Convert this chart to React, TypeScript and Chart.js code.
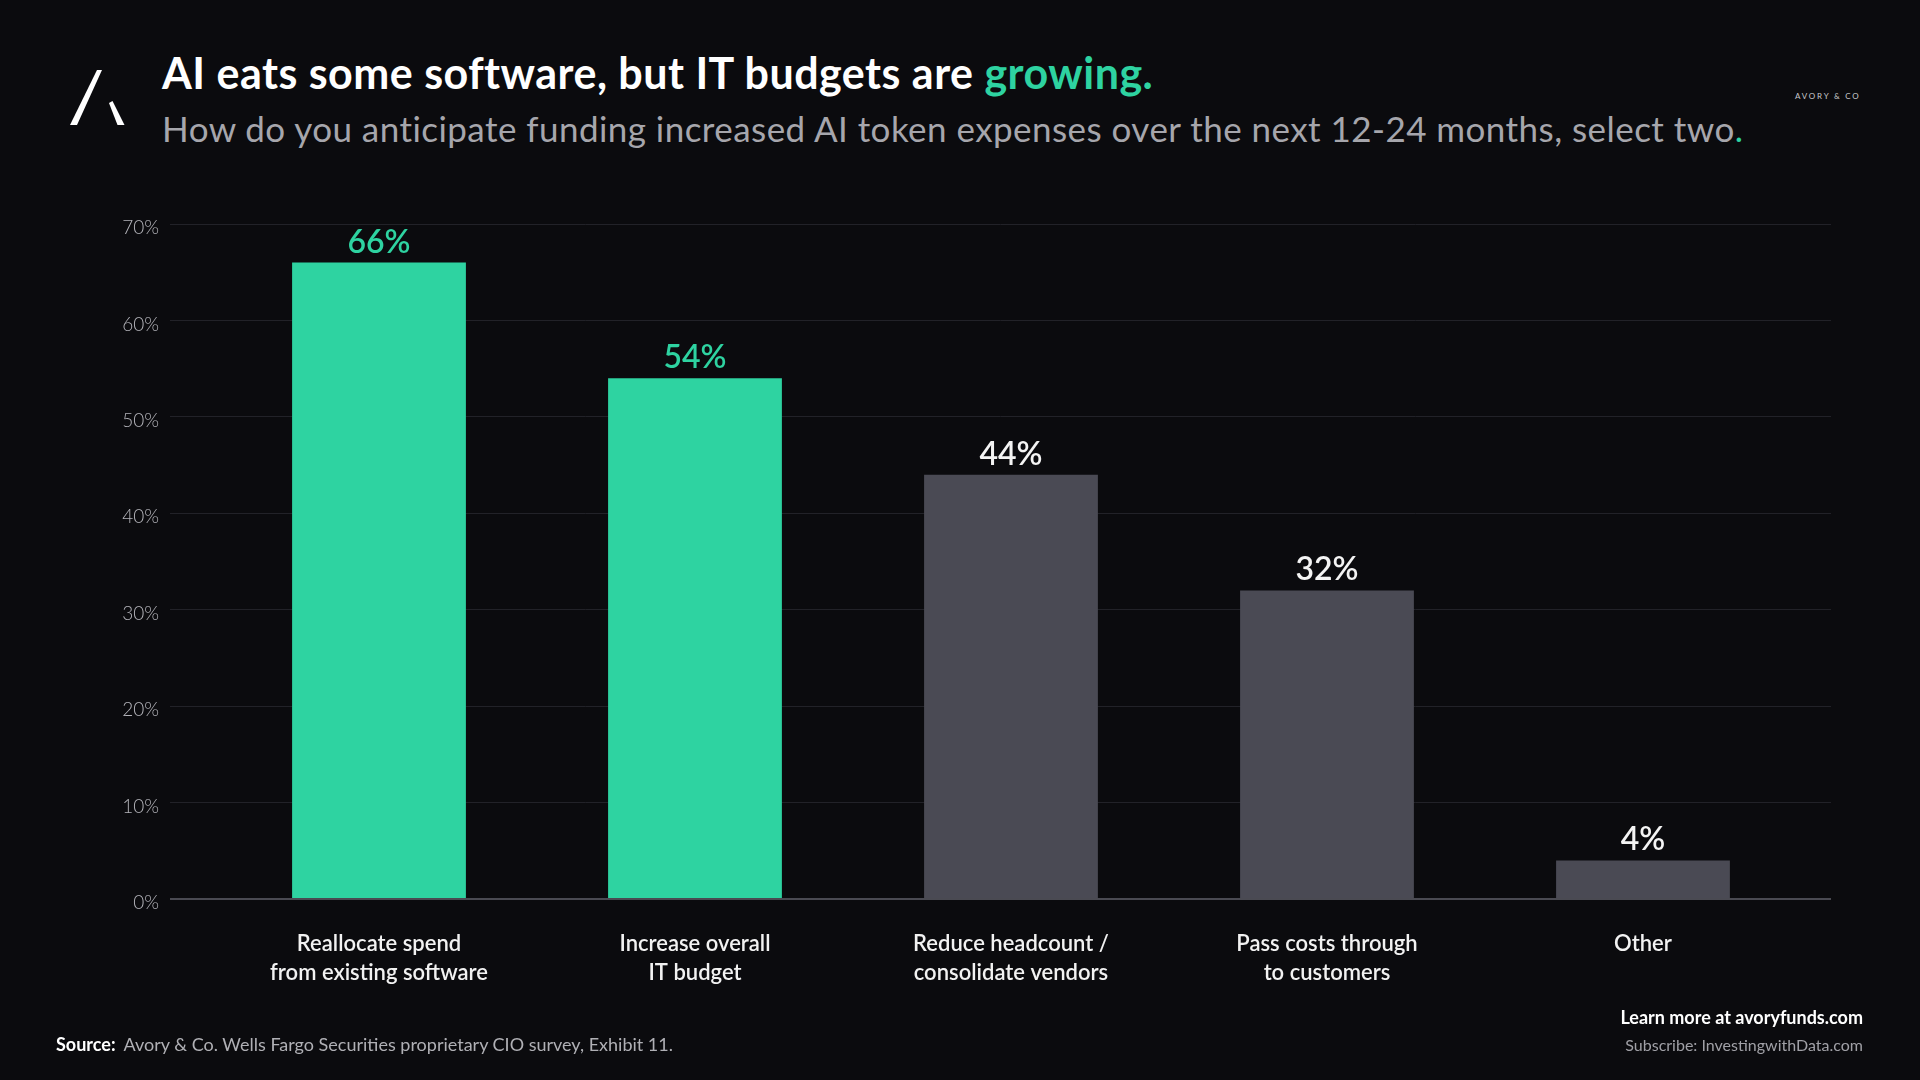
import { useEffect, useRef } from "react";
import Chart from "chart.js/auto";

// survey answers, share of CIOs (%)
const categories = [
  ["Reallocate spend", "from existing software"],
  ["Increase overall", "IT budget"],
  ["Reduce headcount /", "consolidate vendors"],
  ["Pass costs through", "to customers"],
  ["Other"],
];
const shares = [66, 54, 44, 32, 4];
const yTicks = [0, 10, 20, 30, 40, 50, 60, 70];

const GREEN = "#2ed3a1";
const GREY = "#4a4a54";
const BG = "#0b0b0e";
const FONT = "Lato, 'Noto Sans', sans-serif";

// draws the "66%" style labels above each bar
const valueLabels = {
  id: "valueLabels",
  afterDatasetsDraw(chart: any) {
    const { ctx } = chart;
    const meta = chart.getDatasetMeta(0);
    ctx.save();
    ctx.font = `600 32px ${FONT}`;
    ctx.textAlign = "center";
    ctx.textBaseline = "alphabetic";
    meta.data.forEach((bar: any, i: number) => {
      ctx.fillStyle = i < 2 ? GREEN : "#f4f4f4";
      ctx.fillText(`${shares[i]}%`, bar.x, bar.y - 10);
    });
    ctx.restore();
  },
};

export default function App() {
  const canvasRef = useRef<HTMLCanvasElement>(null);

  useEffect(() => {
    if (!canvasRef.current) return;

    const chart = new Chart(canvasRef.current, {
      type: "bar",
      data: {
        datasets: [
          {
            data: shares.map((v, i) => ({ x: i, y: v })),
            backgroundColor: (c: any) => (c.dataIndex < 2 ? GREEN : GREY),
            borderWidth: 0,
            barPercentage: 0.55,
            categoryPercentage: 1,
          },
        ],
      },
      options: {
        responsive: false,
        animation: false,
        layout: { padding: { left: 0, top: 224, right: 89, bottom: 61 } },
        plugins: {
          legend: { display: false },
          tooltip: { enabled: false },
        },
        scales: {
          x: {
            type: "linear",
            min: -0.6614,
            max: 4.595,
            offset: false,
            grid: { display: false },
            border: { display: false },
            afterBuildTicks: (axis: any) => {
              axis.ticks = categories.map((_, i) => ({ value: i }));
            },
            afterFit: (axis: any) => {
              axis.height = 120;
            },
            ticks: {
              callback: (v: any) => categories[v] ?? "",
              color: "#f2f2f2",
              font: { family: FONT, size: 22, weight: "600", lineHeight: 1.33 },
              padding: 22,
              maxRotation: 0,
              autoSkip: false,
            },
          },
          y: {
            min: 0,
            max: 70,
            afterBuildTicks: (axis: any) => {
              axis.ticks = yTicks.map((v) => ({ value: v }));
            },
            afterFit: (axis: any) => {
              axis.width = 170;
            },
            grid: {
              color: (c: any) => (c.tick.value === 0 ? "#4a4a52" : "#222228"),
              lineWidth: (c: any) => (c.tick.value === 0 ? 2 : 1),
              drawTicks: false,
            },
            border: { display: false },
            ticks: {
              callback: (v: any) => `${v}%`,
              color: "#b4b4ba",
              font: { family: FONT, size: 19, weight: "300" },
              padding: 11,
              labelOffset: 4,
            },
          },
        },
      },
      plugins: [valueLabels],
    } as any);

    return () => chart.destroy();
  }, []);

  return (
    <div
      style={{
        position: "absolute",
        left: 0,
        top: 0,
        width: 1920,
        height: 1080,
        background: BG,
        fontFamily: FONT,
        overflow: "hidden",
      }}
    >
      <svg
        width={1920}
        height={200}
        style={{ position: "absolute", left: 0, top: 0 }}
      >
        <polygon points="97,70 102,70 77,125 70,125" fill="#ffffff" />
        <polygon points="109,103 112.5,101 124.5,125 117.5,125" fill="#ffffff" />
      </svg>

      <div
        style={{
          position: "absolute",
          left: 162,
          top: 46.5,
          fontSize: 43,
          fontWeight: 700,
          letterSpacing: 0.48,
          lineHeight: 1.2,
          color: "#ffffff",
          whiteSpace: "nowrap",
        }}
      >
        AI eats some software, but IT budgets are <span style={{ color: GREEN }}>growing.</span>
      </div>
      <div
        style={{
          position: "absolute",
          left: 162,
          top: 106.5,
          fontSize: 35,
          fontWeight: 400,
          letterSpacing: 0.45,
          lineHeight: 1.2,
          color: "#a6a6ac",
          whiteSpace: "nowrap",
        }}
      >
        How do you anticipate funding increased AI token expenses over the next 12-24 months, select two
        <span style={{ color: GREEN }}>.</span>
      </div>

      <div
        style={{
          position: "absolute",
          left: 1795,
          top: 92,
          fontSize: 8,
          letterSpacing: 1.8,
          lineHeight: 1.2,
          color: "#c8c8cc",
          whiteSpace: "nowrap",
        }}
      >
        AVORY &amp; CO
      </div>

      <canvas
        ref={canvasRef}
        width={1920}
        height={1080}
        style={{ position: "absolute", left: 0, top: 0, width: 1920, height: 1080 }}
      />

      <div
        style={{
          position: "absolute",
          left: 56,
          top: 1033.5,
          fontSize: 18,
          lineHeight: 1.2,
          whiteSpace: "nowrap",
          color: "#b0b0b5",
        }}
      >
        <span style={{ color: "#ffffff", fontWeight: 700, marginRight: 8 }}>Source:</span>
        Avory &amp; Co. Wells Fargo Securities proprietary CIO survey, Exhibit 11.
      </div>

      <div
        style={{
          position: "absolute",
          right: 57,
          top: 1007,
          fontSize: 18,
          fontWeight: 700,
          lineHeight: 1.2,
          color: "#ffffff",
          whiteSpace: "nowrap",
          textAlign: "right",
        }}
      >
        Learn more at avoryfunds.com
      </div>
      <div
        style={{
          position: "absolute",
          right: 57,
          top: 1035,
          fontSize: 16,
          lineHeight: 1.2,
          color: "#a0a0a6",
          whiteSpace: "nowrap",
          textAlign: "right",
        }}
      >
        Subscribe: InvestingwithData.com
      </div>
    </div>
  );
}
